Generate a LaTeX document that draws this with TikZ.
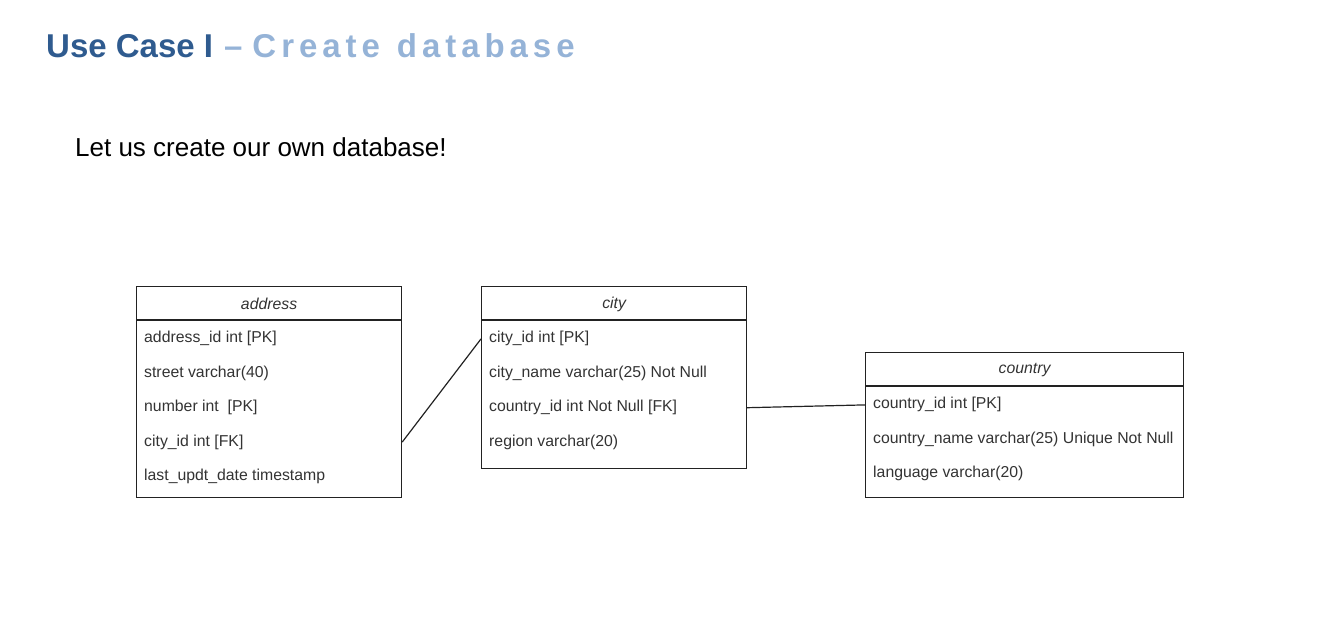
\documentclass[tikz,border=0pt]{standalone}
\usepackage{fontspec}
\setmainfont{Liberation Sans}
\newfontfamily\spacedfont[LetterSpace=15]{Liberation Sans}
\usetikzlibrary{positioning}
\definecolor{titleblue}{HTML}{2F5B8F}
\definecolor{lightblue}{HTML}{95B3D7}
\definecolor{rowtext}{HTML}{333333}
\definecolor{linegray}{HTML}{222222}

\tikzset{
  tablebox/.style={draw=linegray, line width=1.2pt, anchor=north west, inner sep=0},
  headtext/.style={font=\fontsize{15.8}{19}\selectfont\itshape, text=rowtext, inner sep=0},
  rowtext/.style={font=\fontsize{15.8}{19}\selectfont, text=rowtext, anchor=west, inner sep=0},
  link/.style={draw=linegray, line width=1.2pt}
}

\begin{document}
\begin{tikzpicture}[x=1pt,y=-1pt]
\useasboundingbox (0,0) rectangle (1320,630);
% title and subtitle
\node[anchor=base west, inner sep=0, font=\fontsize{33}{40}\selectfont\bfseries] (title) at (46,57)
  {\textcolor{titleblue}{Use Case I}\hspace{11pt}\textcolor{lightblue}{–\hspace{10pt}{\spacedfont\bfseries Create\hspace{17pt}database}}};
\node[anchor=base west, inner sep=0, font=\fontsize{26}{31}\selectfont] (intro) at (75,156)
  {Let us create our own database!};

% address table
\node[tablebox, minimum width=265pt, minimum height=211pt] (address) at (136,286) {};
\draw[link] ([yshift=-34pt]address.north west) -- ([yshift=-34pt]address.north east);
\node[headtext] at ([yshift=-18pt]address.north) {address};
\foreach \t [count=\i] in {address\_id int [PK], street varchar(40), number int~ [PK],
    city\_id int [FK], last\_updt\_date timestamp}
  \node[rowtext] (addr\i) at ([xshift=8pt, yshift={-(18.5+34.4*\i)*1pt}]address.north west) {\t};

% city table
\node[tablebox, minimum width=265pt, minimum height=182pt] (city) at (481,286) {};
\draw[link] ([yshift=-34pt]city.north west) -- ([yshift=-34pt]city.north east);
\node[headtext] at ([yshift=-18pt]city.north) {city};
\foreach \t [count=\i] in {city\_id int [PK], city\_name varchar(25) Not Null,
    country\_id int Not Null [FK], region varchar(20)}
  \node[rowtext] (city\i) at ([xshift=8pt, yshift={-(18.5+34.4*\i)*1pt}]city.north west) {\t};

% country table
\node[tablebox, minimum width=318pt, minimum height=145pt] (country) at (865,352) {};
\draw[link] ([yshift=-34pt]country.north west) -- ([yshift=-34pt]country.north east);
\node[headtext] at ([yshift=-18pt]country.north) {country};
\foreach \t [count=\i] in {country\_id int [PK], country\_name varchar(25) Unique Not Null,
    language varchar(20)}
  \node[rowtext] (ctry\i) at ([xshift=8pt, yshift={-(18.5+34.4*\i)*1pt}]country.north west) {\t};

% relations
\draw[link] (address.east |- addr4) -- (city.west |- city1);
\draw[link] (city.east |- city3) -- (country.west |- ctry1);
\end{tikzpicture}
\end{document}
